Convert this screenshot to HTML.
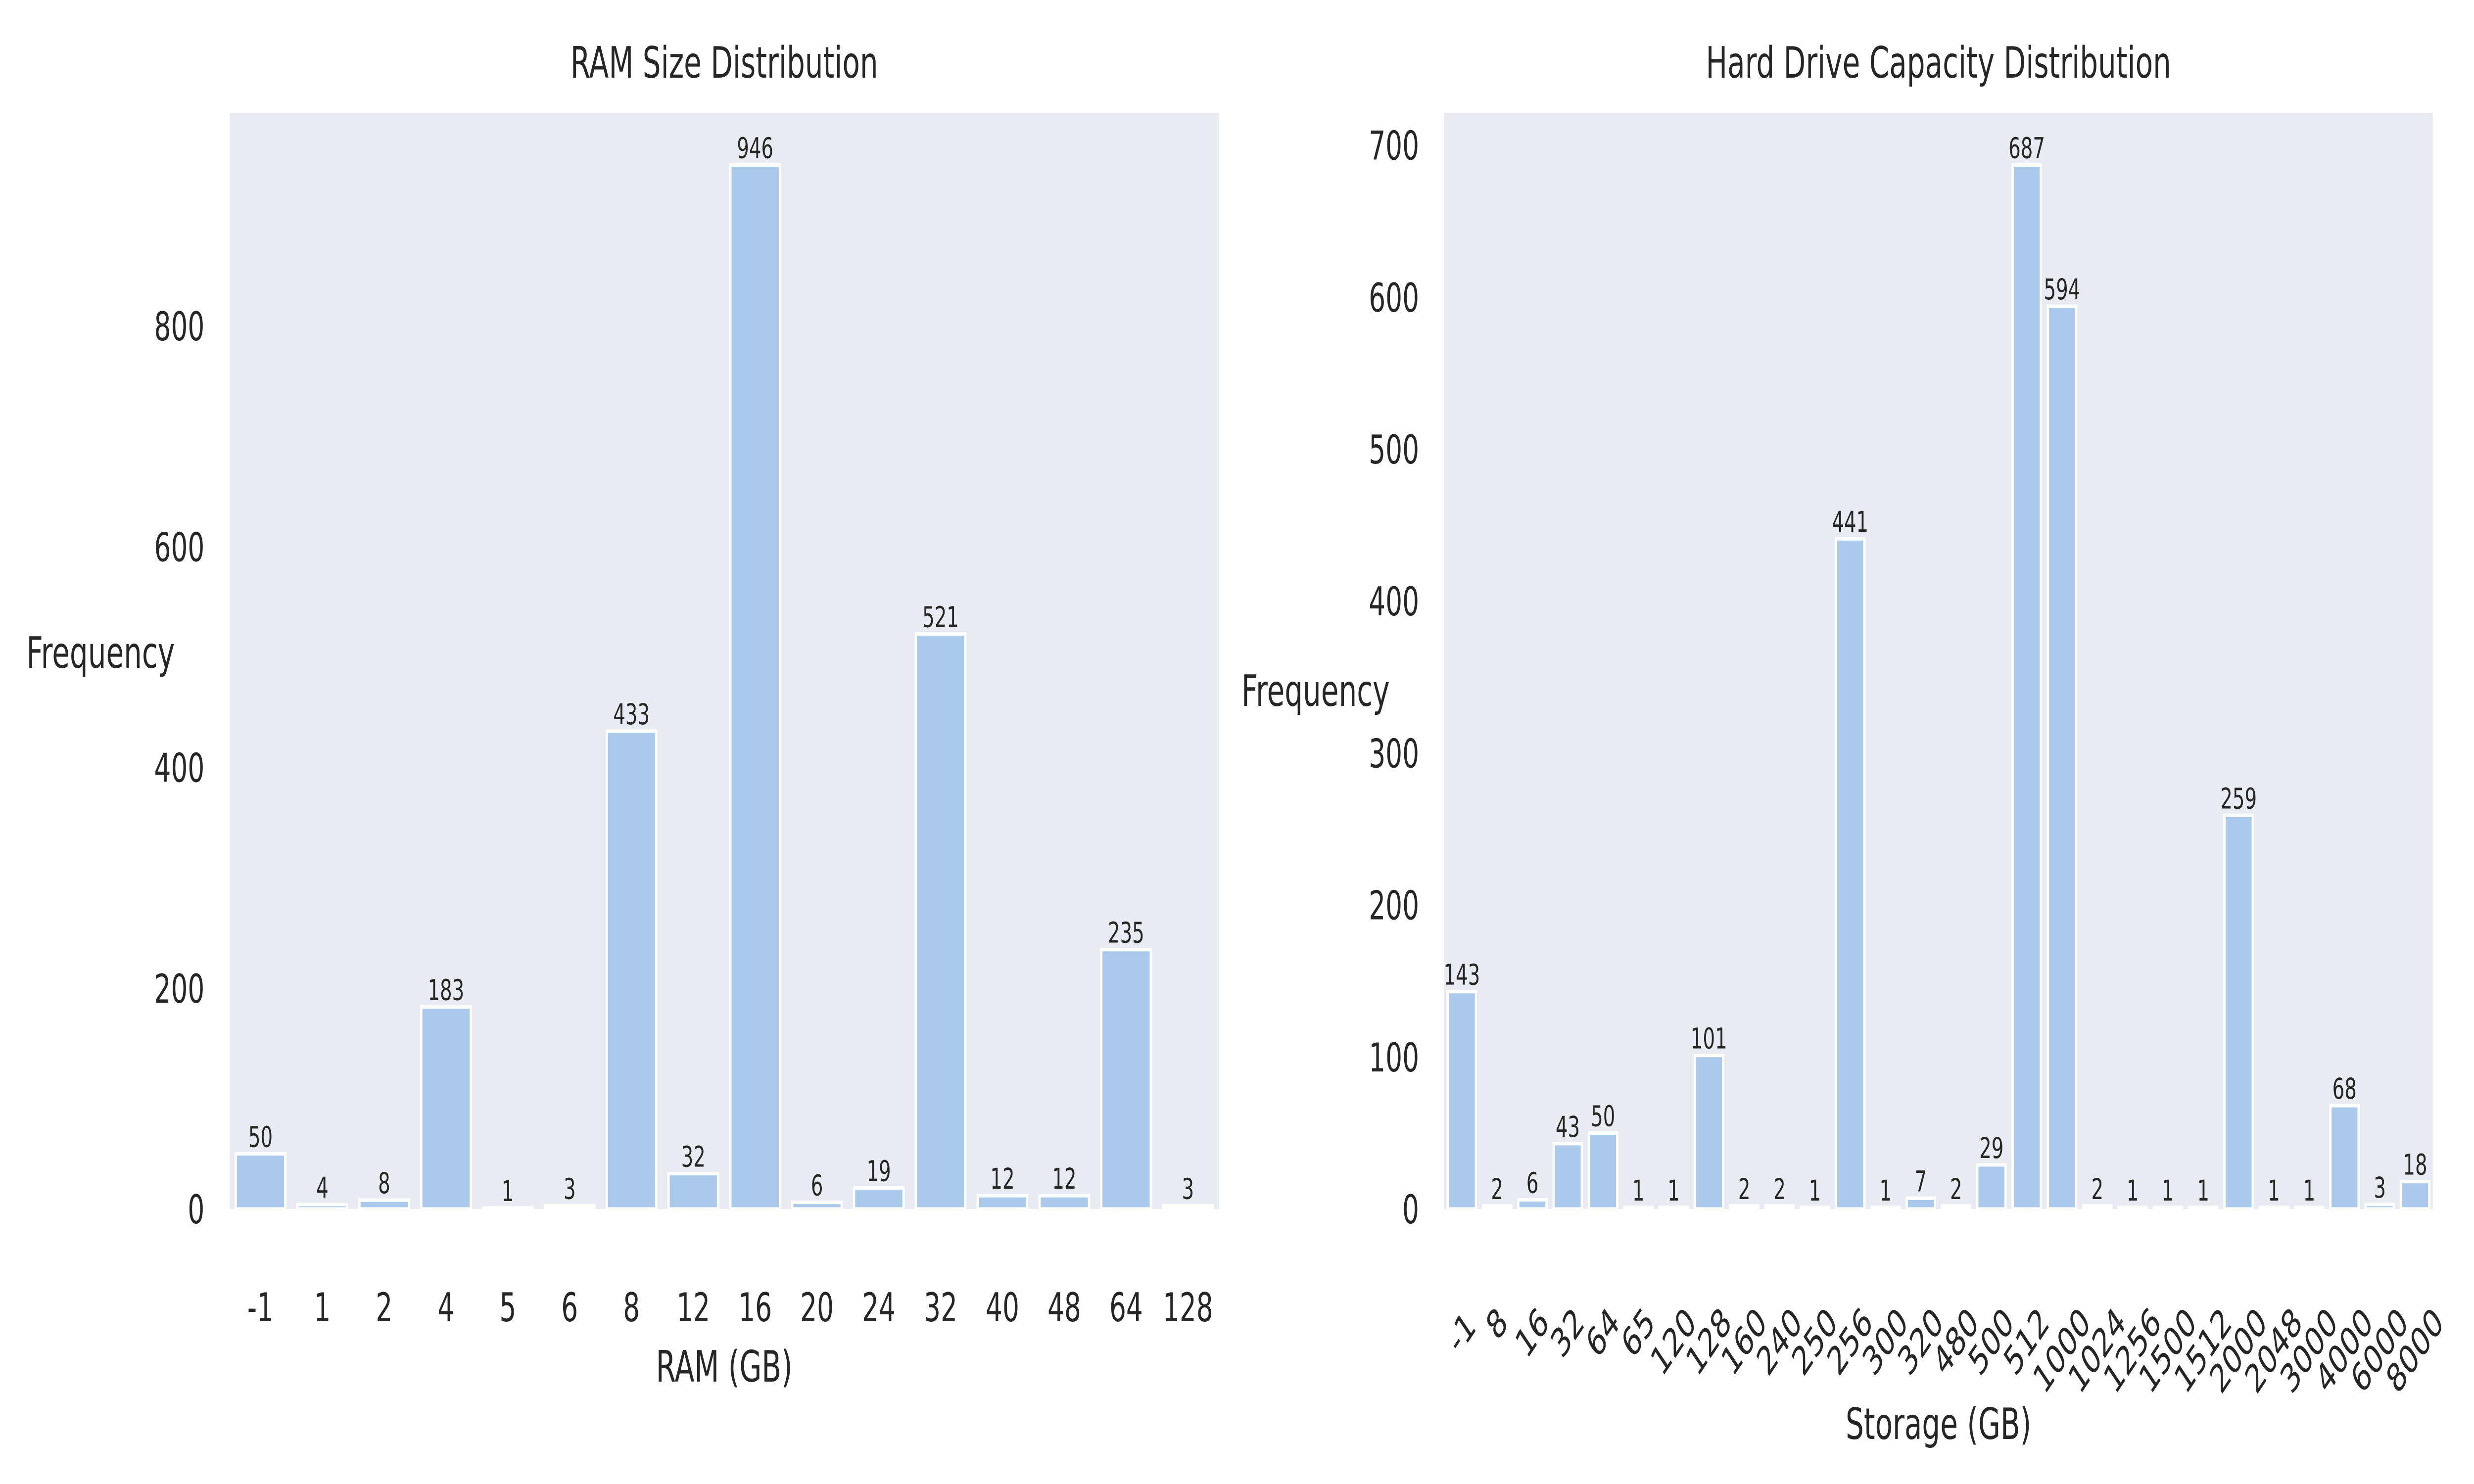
<!DOCTYPE html>
<html><head><meta charset="utf-8"><style>
html,body{margin:0;padding:0;background:#fff;width:100%;height:100%;overflow:hidden;}
svg{display:block;width:100vw;height:100vh;font-family:"DejaVu Sans","Liberation Sans",sans-serif;fill:#262626;}
</style></head><body>
<svg id="fig" viewBox="0 0 7500 3000" preserveAspectRatio="none" xmlns="http://www.w3.org/2000/svg">
<rect width="7500" height="3000" fill="#ffffff"/>
<g id="left"></g>
<g id="right"></g>
</svg>
<script>
const ramCategories = ["-1","1","2","4","5","6","8","12","16","20","24","32","40","48","64","128"];
const ramCounts = [50,4,8,183,1,3,433,32,946,6,19,521,12,12,235,3];
const ramTicks = [0,200,400,600,800];
const storageCategories = ["-1","8","16","32","64","65","120","128","160","240","250","256","300","320","480","500","512","1000","1024","1256","1500","1512","2000","2048","3000","4000","6000","8000"];
const storageCounts = [143,2,6,43,50,1,1,101,2,2,1,441,1,7,2,29,687,594,2,1,1,1,259,1,1,68,3,18];
const storageTicks = [0,100,200,300,400,500,600,700];

const NS="http://www.w3.org/2000/svg";
function mk(parent,tag,attrs,text){const e=document.createElementNS(NS,tag);for(const k in attrs)e.setAttribute(k,attrs[k]);if(text!==undefined)e.textContent=text;parent.appendChild(e);return e;}

function drawChart(g,cfg){
  const {x0,x1,y0,y1,cats,vals,ticks,title,xlabel,rotate,titleY,xlabelY,ylabX,ylabY}=cfg;
  const ymax=Math.max(...vals)*1.05;
  const ys=v=>y1-(v/ymax)*(y1-y0);
  const band=(x1-x0)/cats.length;
  const xs=i=>x0+band*(i+0.5);
  const bg=mk(g,'rect',{x:x0,y:y0,width:x1-x0,height:y1-y0,fill:'#eaeaf2'});
  
  
  const bw=band*0.8;
  vals.forEach((v,i)=>{
    const r=mk(g,'rect',{x:xs(i)-bw/2,y:ys(v),width:bw,height:y1-ys(v),fill:'#abc9ea',stroke:'#ffffff','stroke-width':7});
    
    
    const t=mk(g,'text',{x:xs(i),y:ys(v)-14,'text-anchor':'middle','font-size':58},String(v));
    
    
  });
  ticks.forEach(tv=>{
    const t=mk(g,'text',{x:x0-76,y:ys(tv)+29,'text-anchor':'end','font-size':80},String(tv));
    
    
  });
  cats.forEach((c,i)=>{
    let t;
    if(rotate){
      const w=c.length*0.636*80, h=93;
      const cy=2626+(w+h)*0.707/2;
      t=mk(g,'text',{x:0,y:0,'text-anchor':'middle','dominant-baseline':'central','font-size':80,transform:`translate(${xs(i)},${cy}) rotate(-45)`},c);
    } else {
      t=mk(g,'text',{x:xs(i),y:2671,'text-anchor':'middle','font-size':80},c);
    }
    
    
  });
  const tt=mk(g,'text',{x:(x0+x1)/2,y:titleY,'text-anchor':'middle','font-size':87},title);
  
  
  const xl=mk(g,'text',{x:(x0+x1)/2,y:xlabelY,'text-anchor':'middle','font-size':87},xlabel);
  
  
  const yl=mk(g,'text',{x:ylabX,y:ylabY,'text-anchor':'middle','font-size':87},'Frequency');
  
  
}
drawChart(document.getElementById('left'),{x0:696,x1:3695,y0:228,y1:2444,cats:ramCategories,vals:ramCounts,ticks:ramTicks,title:'RAM Size Distribution',xlabel:'RAM (GB)',rotate:false,titleY:157,xlabelY:2793,ylabX:305,ylabY:1350});
drawChart(document.getElementById('right'),{x0:4378,x1:7375,y0:228,y1:2444,cats:storageCategories,vals:storageCounts,ticks:storageTicks,title:'Hard Drive Capacity Distribution',xlabel:'Storage (GB)',rotate:true,titleY:157,xlabelY:2909,ylabX:3988,ylabY:1427});
</script>
</body></html>
